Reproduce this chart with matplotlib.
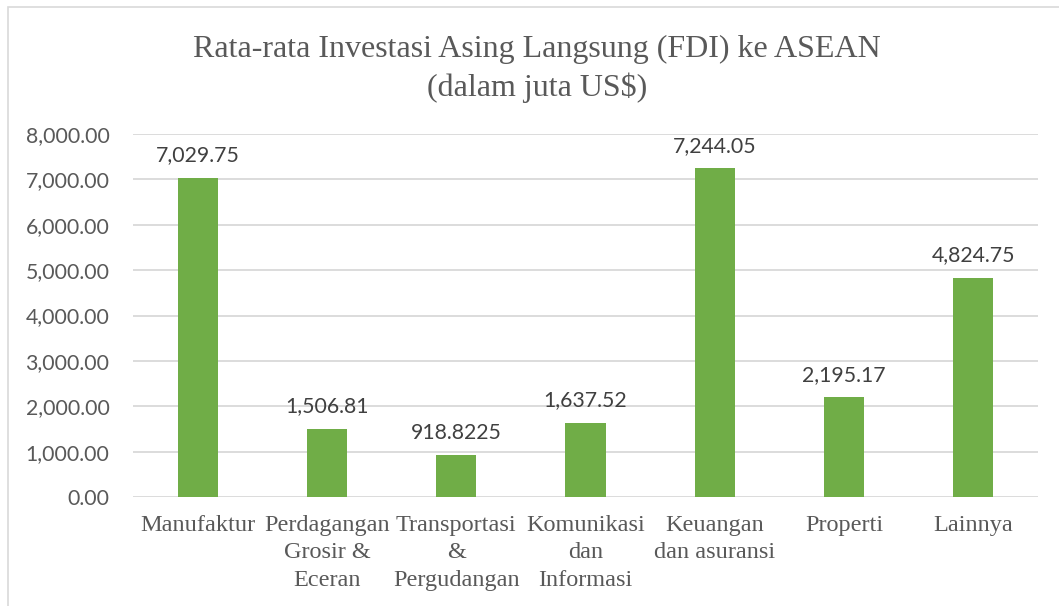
#!/usr/bin/env python3

import matplotlib.pyplot as plt
from matplotlib.patches import Rectangle

# Data
categories = ['Manufaktur', 'Perdagangan\nGrosir &\nEceran', 'Transportasi\n&\nPergudangan',
              'Komunikasi\ndan\nInformasi', 'Keuangan\ndan asuransi', 'Properti', 'Lainnya']
values = [7029.75, 1506.81, 918.8225, 1637.52, 7244.05, 2195.17, 4824.75]
value_labels = ['7,029.75', '1,506.81', '918.8225', '1,637.52', '7,244.05', '2,195.17', '4,824.75']
yticks = [0, 1000, 2000, 3000, 4000, 5000, 6000, 7000, 8000]

green = '#70AD47'
grid_color = '#D9D9D9'
tick_color = '#595959'
serif = ['Liberation Serif', 'DejaVu Serif']
sans = ['Lato', 'DejaVu Sans']

fig = plt.figure(figsize=(10.59, 6.06), dpi=100)
ax = fig.add_axes([133 / 1059, 1 - 497 / 606, 905 / 1059, 363 / 606])

x = range(len(categories))
bars = ax.bar(x, values, width=0.31, color=green, zorder=3)

# Data labels above bars
for b, lab in zip(bars, value_labels):
    ax.annotate(lab, (b.get_x() + b.get_width() / 2, b.get_height()),
                xytext=(0, 9), textcoords='offset points', ha='center', va='bottom',
                fontsize=15.3, color='#404040', family=sans)

ax.set_xlim(-0.5, len(categories) - 0.5)
ax.set_ylim(0, 8000)
ax.set_yticks(yticks)
ax.set_yticklabels([f'{v:,.2f}' for v in yticks], fontsize=15.3, color=tick_color, family=sans)
ax.set_xticks(list(x))
ax.set_xticklabels(categories, fontsize=17.5, color=tick_color, family=serif, linespacing=1.4)
ax.tick_params(axis='both', length=0)
ax.tick_params(axis='x', pad=13)
ax.tick_params(axis='y', pad=17)
ax.grid(axis='y', color=grid_color, linewidth=1.3, zorder=0)
for s in ax.spines.values():
    s.set_visible(False)

# Title
fig.text(537 / 1059, 1 - 49 / 606, 'Rata-rata Investasi Asing Langsung (FDI) ke ASEAN',
         ha='center', va='center', fontsize=23, color=tick_color, family=serif)
fig.text(537 / 1059, 1 - 88 / 606, '(dalam juta US$)',
         ha='center', va='center', fontsize=23, color=tick_color, family=serif)

# Chart border
fig.patches.append(Rectangle((8 / 1059, -0.1), 1.2, 1 - 7 / 606 + 0.1, transform=fig.transFigure,
                             fill=False, edgecolor='#D9D9D9', linewidth=1.2))

plt.savefig('out.png', dpi=100)
